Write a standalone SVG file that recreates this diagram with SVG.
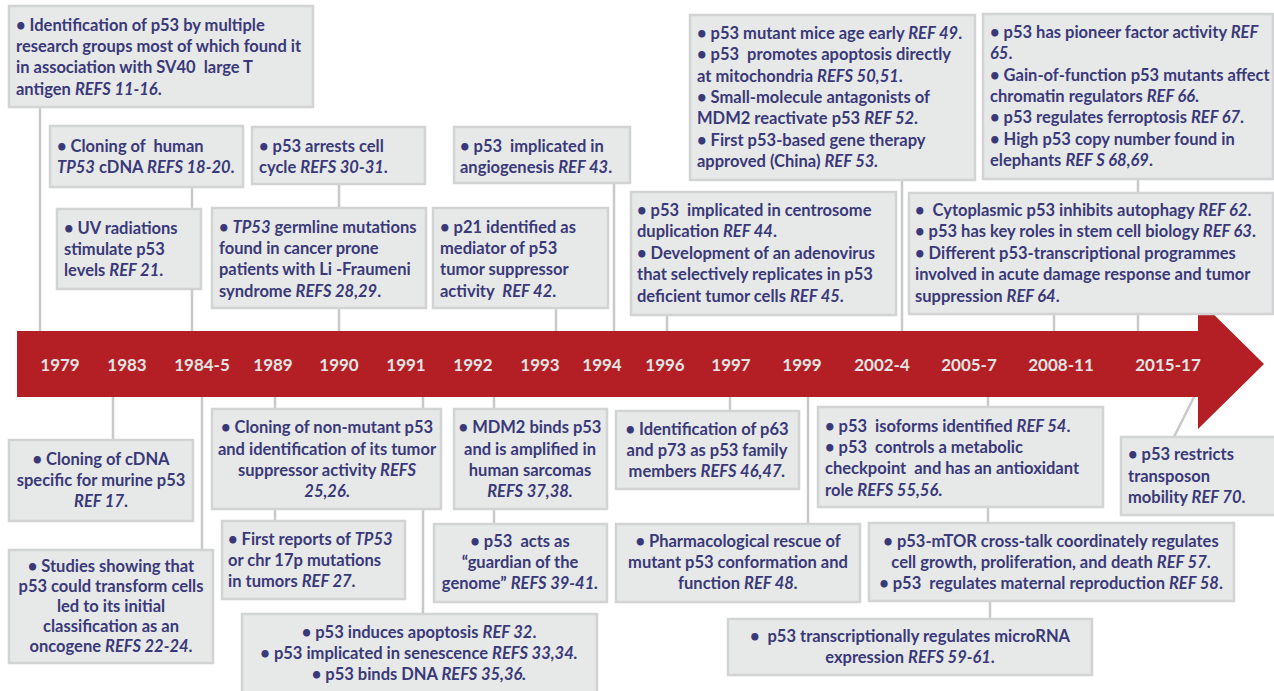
<svg xmlns="http://www.w3.org/2000/svg" width="1274" height="691" viewBox="0 0 1274 691">
<style>
.box{fill:#e7e8e8;stroke:#d2d3d4;stroke-width:2.5}
.t{font-family:Lato,"Open Sans","Liberation Sans",sans-serif;font-weight:bold;font-size:16.5px;fill:#393979;white-space:pre}
.c{text-anchor:middle}
.i{font-style:italic}
.yr{font-family:Lato,"Liberation Sans",sans-serif;font-weight:bold;font-size:17px;fill:#e4e4e4;text-anchor:middle}
.ln{stroke:#c8c9ca;stroke-width:2.5;fill:none}
</style>
<rect width="1274" height="691" fill="#ffffff"/>
<g id="connectors" class="ln">
<line x1="40" y1="107" x2="40" y2="331"/>
<line x1="192" y1="187" x2="192" y2="331"/>
<line x1="339" y1="184" x2="339" y2="331"/>
<line x1="556" y1="308" x2="556" y2="331"/>
<line x1="614" y1="183" x2="614" y2="331"/>
<line x1="667" y1="315" x2="667" y2="331"/>
<line x1="902" y1="180" x2="902" y2="331"/>
<line x1="1054" y1="314" x2="1054" y2="331"/>
<line x1="1138" y1="179" x2="1138" y2="331"/>
<line x1="113" y1="397" x2="113" y2="440"/>
<line x1="202" y1="397" x2="202" y2="550"/>
<line x1="275" y1="397" x2="275" y2="521"/>
<line x1="423" y1="397" x2="423" y2="614"/>
<line x1="494" y1="397" x2="494" y2="524"/>
<line x1="730" y1="397" x2="730" y2="411"/>
<line x1="808" y1="397" x2="808" y2="524"/>
<line x1="988" y1="397" x2="988" y2="523"/>
<line x1="990" y1="601" x2="990" y2="619"/>
<line x1="1174" y1="437" x2="1194" y2="397"/>
</g>
<g id="timeline">
<polygon points="17,331 1198,331 1198,299 1264,364 1198,429 1198,397 17,397" fill="#b31f24"/>
<text class="yr" x="60" y="371">1979</text>
<text class="yr" x="127" y="371">1983</text>
<text class="yr" x="202" y="371">1984-5</text>
<text class="yr" x="273" y="371">1989</text>
<text class="yr" x="339" y="371">1990</text>
<text class="yr" x="406" y="371">1991</text>
<text class="yr" x="473" y="371">1992</text>
<text class="yr" x="540" y="371">1993</text>
<text class="yr" x="602" y="371">1994</text>
<text class="yr" x="665" y="371">1996</text>
<text class="yr" x="731" y="371">1997</text>
<text class="yr" x="802" y="371">1999</text>
<text class="yr" x="882" y="371">2002-4</text>
<text class="yr" x="969" y="371">2005-7</text>
<text class="yr" x="1061" y="371">2008-11</text>
<text class="yr" x="1168" y="371">2015-17</text>
</g>
<g id="n1979">
<rect class="box" x="9" y="6" width="304" height="101"/>
<text class="t" x="16"><tspan x="16" y="31">• Identification of p53 by multiple</tspan><tspan x="16" y="52">research groups most of which found it</tspan><tspan x="16" y="73">in association with SV40  large T</tspan><tspan x="16" y="95">antigen <tspan class="i">REFS 11-16</tspan>.</tspan></text>
</g>
<g id="n-human-tp53">
<rect class="box" x="50" y="126" width="193" height="61"/>
<text class="t"><tspan x="57" y="152">• Cloning of  human</tspan><tspan x="57" y="173"><tspan class="i">TP53</tspan> cDNA <tspan class="i">REFS 18-20</tspan>.</tspan></text>
</g>
<g id="n-uv">
<rect class="box" x="57" y="209" width="144" height="80"/>
<text class="t"><tspan x="64" y="234">• UV radiations</tspan><tspan x="64" y="255">stimulate p53</tspan><tspan x="64" y="276">levels <tspan class="i">REF 21</tspan>.</tspan></text>
</g>
<g id="n-arrest">
<rect class="box" x="252" y="127" width="173" height="57"/>
<text class="t"><tspan x="259" y="152">• p53 arrests cell</tspan><tspan x="259" y="173">cycle <tspan class="i">REFS 30-31</tspan>.</tspan></text>
</g>
<g id="n-germline">
<rect class="box" x="212" y="208" width="214" height="100"/>
<text class="t"><tspan x="219" y="233">• <tspan class="i">TP53</tspan> germline mutations</tspan><tspan x="219" y="254">found in cancer prone</tspan><tspan x="219" y="275">patients with Li -Fraumeni</tspan><tspan x="219" y="297">syndrome <tspan class="i">REFS 28,29</tspan>.</tspan></text>
</g>
<g id="n-angio">
<rect class="box" x="454" y="127" width="176" height="56"/>
<text class="t"><tspan x="460" y="152">• p53  implicated in</tspan><tspan x="460" y="173">angiogenesis <tspan class="i">REF 43</tspan>.</tspan></text>
</g>
<g id="n-p21">
<rect class="box" x="433" y="208" width="175" height="100"/>
<text class="t"><tspan x="440" y="233">• p21 identified as</tspan><tspan x="440" y="254">mediator of p53</tspan><tspan x="440" y="275">tumor suppressor</tspan><tspan x="440" y="297">activity  <tspan class="i">REF 42</tspan>.</tspan></text>
</g>
<g id="n-centrosome">
<rect class="box" x="631" y="192" width="265" height="123"/>
<text class="t"><tspan x="637" y="216">• p53  implicated in centrosome</tspan><tspan x="637" y="237">duplication <tspan class="i">REF 44</tspan>.</tspan><tspan x="637" y="259">• Development of an adenovirus</tspan><tspan x="637" y="280">that selectively replicates in p53</tspan><tspan x="637" y="302">deficient tumor cells <tspan class="i">REF 45</tspan>.</tspan></text>
</g>
<g id="n-mice">
<rect class="box" x="690" y="15" width="285" height="165"/>
<text class="t"><tspan x="697" y="39">• p53 mutant mice age early <tspan class="i">REF 49</tspan>.</tspan><tspan x="697" y="60">• p53  promotes apoptosis directly</tspan><tspan x="697" y="82">at mitochondria <tspan class="i">REFS 50,51</tspan>.</tspan><tspan x="697" y="103">• Small-molecule antagonists of</tspan><tspan x="697" y="124">MDM2 reactivate p53 <tspan class="i">REF 52</tspan>.</tspan><tspan x="697" y="146">• First p53-based gene therapy</tspan><tspan x="697" y="167">approved (China) <tspan class="i">REF 53.</tspan></tspan></text>
</g>
<g id="n-cyto">
<rect class="box" x="909" y="193" width="364" height="121"/>
<text class="t"><tspan x="915" y="216">•  Cytoplasmic p53 inhibits autophagy <tspan class="i">REF 62</tspan>.</tspan><tspan x="915" y="237">• p53 has key roles in stem cell biology <tspan class="i">REF 63</tspan>.</tspan><tspan x="915" y="259">• Different p53-transcriptional programmes</tspan><tspan x="915" y="280">involved in acute damage response and tumor</tspan><tspan x="915" y="302">suppression <tspan class="i">REF 64</tspan>.</tspan></text>
</g>
<g id="n-pioneer">
<rect class="box" x="983" y="14" width="290" height="165"/>
<text class="t"><tspan x="990" y="38">• p53 has pioneer factor activity <tspan class="i">REF</tspan></tspan><tspan x="990" y="59"><tspan class="i">65</tspan>.</tspan><tspan x="990" y="81">• Gain-of-function p53 mutants affect</tspan><tspan x="990" y="102">chromatin regulators <tspan class="i">REF 66</tspan>.</tspan><tspan x="990" y="123">• p53 regulates ferroptosis <tspan class="i">REF 67</tspan>.</tspan><tspan x="990" y="145">• High p53 copy number found in</tspan><tspan x="990" y="166">elephants <tspan class="i">REF S 68,69</tspan>.</tspan></text>
</g>
<g id="n-murine">
<rect class="box" x="9" y="440" width="184" height="81"/>
<text class="t c"><tspan x="101" y="465">• Cloning of cDNA</tspan><tspan x="101" y="486">specific for murine p53</tspan><tspan x="101" y="507"><tspan class="i">REF 17</tspan>.</tspan></text>
</g>
<g id="n-oncogene">
<rect class="box" x="9" y="550" width="204" height="113"/>
<text class="t c"><tspan x="111" y="572">• Studies showing that</tspan><tspan x="111" y="592">p53 could transform cells</tspan><tspan x="111" y="612">led to its initial</tspan><tspan x="111" y="632">classification as an</tspan><tspan x="111" y="652">oncogene <tspan class="i">REFS 22-24</tspan>.</tspan></text>
</g>
<g id="n-nonmutant">
<rect class="box" x="212" y="409" width="229" height="100"/>
<text class="t c"><tspan x="327" y="433">• Cloning of non-mutant p53</tspan><tspan x="327" y="455">and identification of its tumor</tspan><tspan x="327" y="476">suppressor activity <tspan class="i">REFS</tspan></tspan><tspan x="327" y="497"><tspan class="i">25,26</tspan>.</tspan></text>
</g>
<g id="n-firstreports">
<rect class="box" x="222" y="521" width="183" height="78"/>
<text class="t"><tspan x="228" y="545">• First reports of <tspan class="i">TP53</tspan></tspan><tspan x="228" y="566">or chr 17p mutations</tspan><tspan x="228" y="587">in tumors <tspan class="i">REF 27</tspan>.</tspan></text>
</g>
<g id="n-apoptosis">
<rect class="box" x="242" y="614" width="355" height="80"/>
<text class="t c"><tspan x="419" y="638">• p53 induces apoptosis <tspan class="i">REF 32</tspan>.</tspan><tspan x="419" y="659">• p53 implicated in senescence <tspan class="i">REFS 33,34.</tspan></tspan><tspan x="419" y="680">• p53 binds DNA <tspan class="i">REFS 35,36.</tspan></tspan></text>
</g>
<g id="n-mdm2">
<rect class="box" x="454" y="409" width="153" height="100"/>
<text class="t c"><tspan x="530" y="433">• MDM2 binds p53</tspan><tspan x="530" y="455">and is amplified in</tspan><tspan x="530" y="476">human sarcomas</tspan><tspan x="530" y="497" class="i">REFS 37,38.</tspan></text>
</g>
<g id="n-guardian">
<rect class="box" x="434" y="524" width="173" height="78"/>
<text class="t c"><tspan x="520" y="547">• p53  acts as</tspan><tspan x="520" y="568">“guardian of the</tspan><tspan x="520" y="589">genome” <tspan class="i">REFS 39-41.</tspan></tspan></text>
</g>
<g id="n-p63">
<rect class="box" x="616" y="411" width="183" height="78"/>
<text class="t c"><tspan x="707" y="435">• Identification of p63</tspan><tspan x="707" y="456">and p73 as p53 family</tspan><tspan x="707" y="477">members <tspan class="i">REFS 46,47.</tspan></tspan></text>
</g>
<g id="n-pharma">
<rect class="box" x="616" y="524" width="244" height="78"/>
<text class="t c"><tspan x="738" y="547">• Pharmacological rescue of</tspan><tspan x="738" y="568">mutant p53 conformation and</tspan><tspan x="738" y="589">function <tspan class="i">REF 48.</tspan></tspan></text>
</g>
<g id="n-isoforms">
<rect class="box" x="818" y="407" width="285" height="100"/>
<text class="t"><tspan x="825" y="432">• p53  isoforms identified <tspan class="i">REF 54</tspan>.</tspan><tspan x="825" y="453">• p53  controls a metabolic</tspan><tspan x="825" y="474">checkpoint  and has an antioxidant</tspan><tspan x="825" y="496">role <tspan class="i">REFS 55,56</tspan>.</tspan></text>
</g>
<g id="n-mtor">
<rect class="box" x="869" y="523" width="365" height="78"/>
<text class="t c"><tspan x="1051" y="547">• p53-mTOR cross-talk coordinately regulates</tspan><tspan x="1051" y="568">cell growth, proliferation, and death <tspan class="i">REF 57</tspan>.</tspan><tspan x="1051" y="589">• p53  regulates maternal reproduction <tspan class="i">REF 58</tspan>.</tspan></text>
</g>
<g id="n-microrna">
<rect class="box" x="728" y="619" width="364" height="56"/>
<text class="t c"><tspan x="910" y="642">•  p53 transcriptionally regulates microRNA</tspan><tspan x="910" y="663">expression <tspan class="i">REFS 59-61</tspan>.</tspan></text>
</g>
<g id="n-transposon">
<rect class="box" x="1121" y="437" width="155" height="78"/>
<text class="t"><tspan x="1128" y="460">• p53 restricts</tspan><tspan x="1128" y="482">transposon</tspan><tspan x="1128" y="503">mobility <tspan class="i">REF 70</tspan>.</tspan></text>
</g>
</svg>
